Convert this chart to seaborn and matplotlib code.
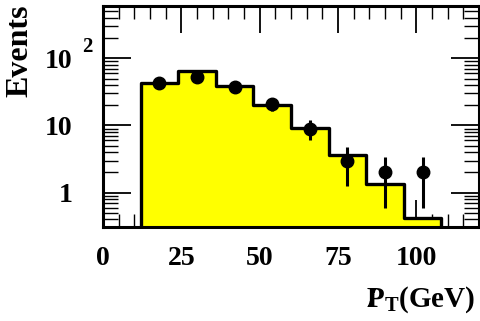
import numpy as np
import pandas as pd
import matplotlib
matplotlib.use("Agg")
import matplotlib.pyplot as plt
import matplotlib.transforms as mtransforms
from matplotlib.ticker import MultipleLocator, LogLocator, NullFormatter, FixedLocator
import seaborn as sns

# ---- data ----
bin_edges = [12, 24, 36, 48, 60, 72, 84, 96, 108]
mc_counts = [42.5, 65.0, 38.5, 20.0, 9.1, 3.6, 1.33, 0.42]
data_x = [18, 30, 42, 54, 66, 78, 90, 102]
data_counts = [43, 52, 37, 21, 9, 3, 2, 2]
data_err = [6.6, 7.2, 6.1, 4.6, 3.0, 1.73, 1.41, 1.41]
x_ticks = [0, 25, 50, 75, 100]
y_ticks = [1, 10, 100]
y_ticklabels = ["1", "10", "10"]

sns.set_style("ticks")
plt.rcParams["font.family"] = ["Liberation Serif", "DejaVu Serif"]
plt.rcParams["font.weight"] = "bold"
plt.rcParams["mathtext.fontset"] = "custom"
plt.rcParams["mathtext.rm"] = "Liberation Serif:bold"
plt.rcParams["mathtext.bf"] = "Liberation Serif:bold"
plt.rcParams["mathtext.it"] = "Liberation Serif:bold"
for k in ["text.color", "axes.labelcolor", "xtick.color", "ytick.color",
          "axes.edgecolor", "xtick.labelcolor", "ytick.labelcolor"]:
    plt.rcParams[k] = "black"

fig = plt.figure(figsize=(4.8, 3.21), dpi=100)
ax = fig.add_axes([0.2146, 0.2938, 0.998 - 0.2146, 0.9813 - 0.2938])
ax.set_yscale("log")

centers = [(a + b) / 2 for a, b in zip(bin_edges[:-1], bin_edges[1:])]
df = pd.DataFrame({"pt": centers, "w": mc_counts})
sns.histplot(data=df, x="pt", weights="w", bins=bin_edges, element="step",
             fill=True, color="#ffff00", alpha=1, edgecolor="black",
             linewidth=2.4, ax=ax)

ax.errorbar(data_x, data_counts, yerr=data_err, fmt="o", color="black",
            ms=9, elinewidth=2.2, capsize=0, zorder=5)

ax.set_xlim(0, 120)
ax.set_ylim(0.312, 600)
ax.set_xlabel("")
ax.set_ylabel("")

ax.xaxis.set_major_locator(FixedLocator(x_ticks))
ax.xaxis.set_minor_locator(MultipleLocator(5))
ax.set_yticks(y_ticks)
ax.set_yticklabels(y_ticklabels)
ax.yaxis.set_minor_locator(LogLocator(base=10, subs=range(2, 10)))
ax.yaxis.set_minor_formatter(NullFormatter())

ax.tick_params(axis="x", which="major", direction="in", length=19.5, width=1.3,
               top=True, labelsize=20, pad=14, colors="black")
ax.tick_params(axis="x", which="minor", direction="in", length=9.5, width=1.0,
               top=True, colors="black")
ax.tick_params(axis="y", which="major", direction="in", length=20, width=1.3,
               right=True, labelsize=20, pad=22, colors="black")
ax.tick_params(axis="y", which="minor", direction="in", length=10.8, width=1.0,
               right=True, colors="black")
for lab in ax.get_xticklabels() + ax.get_yticklabels():
    lab.set_fontweight("bold")

for s in ax.spines.values():
    s.set_linewidth(2.2)
    s.set_color("black")

trans = mtransforms.blended_transform_factory(ax.transAxes, ax.transData)
ax.annotate("2", xy=(-0.056, 100), xycoords=trans, xytext=(0, 8),
            textcoords="offset points", ha="left", va="center",
            fontsize=15, fontweight="bold", annotation_clip=False, color="black")

fig.text(20 / 480, 1 - 51 / 321, "Events", rotation=90, ha="center",
         va="center", fontsize=23, fontweight="bold", color="black")
fig.text(475 / 480, 1 - 306.7 / 321,
         r"$\mathbf{P\!\!\!\!/\,\,}_{\mathbf{T}}$(GeV)",
         ha="right", va="baseline", fontsize=21, fontweight="bold", color="black")

fig.savefig("out.png", dpi=100)
